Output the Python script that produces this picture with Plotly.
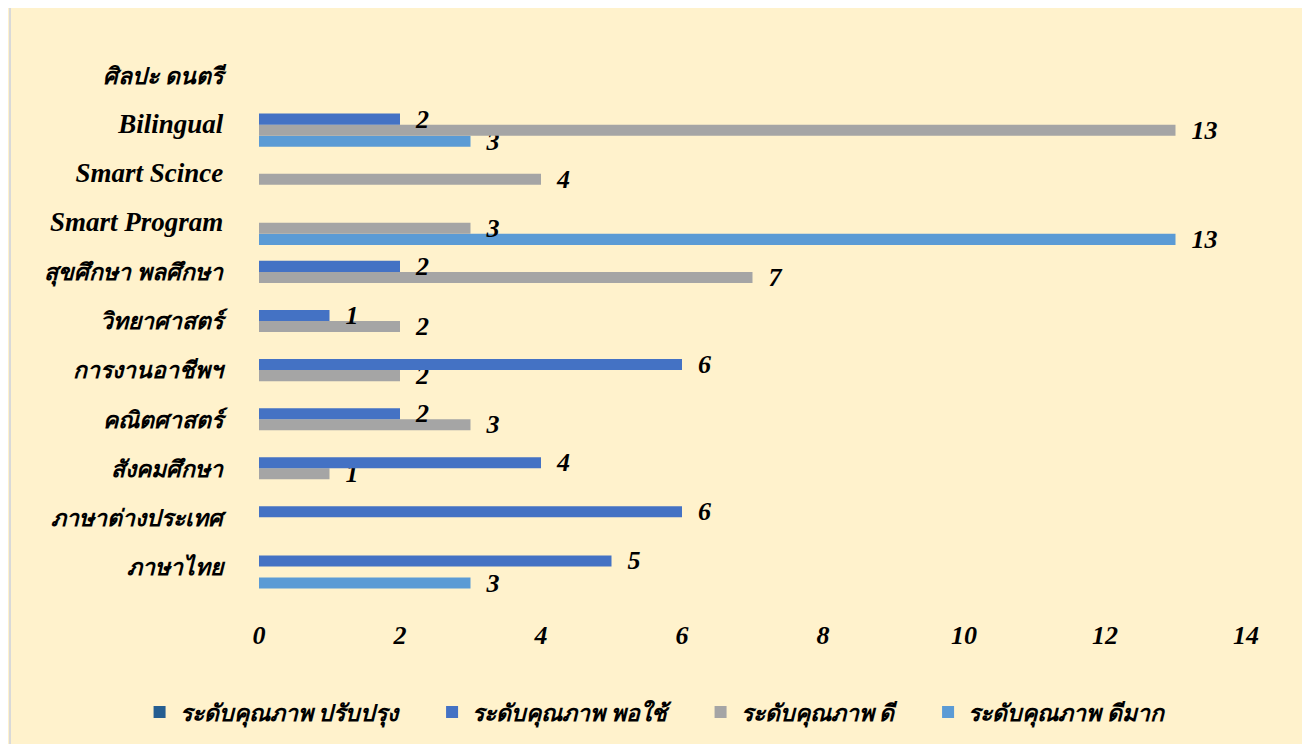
import plotly.graph_objects as go

categories = ["ภาษาไทย", "ภาษาต่างประเทศ", "สังคมศึกษา", "คณิตศาสตร์", "การงานอาชีพฯ",
              "วิทยาศาสตร์", "สุขศึกษา พลศึกษา", "Smart Program", "Smart Scince",
              "Bilingual", "ศิลปะ ดนตรี"]
series_names = ["ระดับคุณภาพ ปรับปรุง", "ระดับคุณภาพ พอใช้", "ระดับคุณภาพ ดี", "ระดับคุณภาพ ดีมาก"]
improve = [0, 0, 0, 0, 0, 0, 0, 0, 0, 0, 0]
fair = [5, 6, 4, 2, 6, 1, 2, 0, 0, 2, 0]
good = [0, 0, 1, 3, 2, 2, 7, 3, 4, 13, 0]
very_good = [3, 0, 0, 0, 0, 0, 0, 13, 0, 3, 0]
x_ticks = [0, 2, 4, 6, 8, 10, 12, 14]

colors = ["#255E91", "#4472C4", "#A5A5A5", "#5B9BD5"]
series_values = [improve, fair, good, very_good]

FONT = "Liberation Serif"
PAD = "\u00a0" * 5


def tick_label(c):
    size = 27 if c.isascii() else 23
    return f'<span style="font-size:{size}px">{c}</span>'


fig = go.Figure()
# plotly places the first trace at the bottom of each group, so add in reverse
for name, vals, col in reversed(list(zip(series_names, series_values, colors))):
    fig.add_trace(go.Bar(
        y=categories, x=vals, name=name + PAD, orientation="h",
        marker=dict(color=col, line=dict(width=0)),
        text=["  " + str(v) if v else "" for v in vals],
        textposition="outside",
        constraintext="none",
        textfont=dict(family=FONT, size=26, color="black", weight="bold", style="italic"),
        cliponaxis=False,
    ))

fig.update_layout(
    width=1310, height=744,
    paper_bgcolor="#FFF2CC", plot_bgcolor="#FFF2CC",
    barmode="group", bargap=0.1, bargroupgap=0,
    margin=dict(l=251, r=72, t=43, b=161, autoexpand=False),
    font=dict(family=FONT, color="black"),
    xaxis=dict(range=[0, 14], tickvals=x_ticks, showgrid=False, zeroline=False,
               showline=False, ticks="outside", ticklen=21, tickcolor="rgba(0,0,0,0)",
               tickfont=dict(family=FONT, size=26, weight="bold", style="italic")),
    yaxis=dict(categoryorder="array", categoryarray=categories,
               tickvals=categories, ticktext=[tick_label(c) for c in categories],
               showgrid=False, zeroline=False, showline=False,
               ticks="outside", ticklen=30, tickcolor="rgba(0,0,0,0)",
               tickfont=dict(family=FONT, size=24, weight="bold", style="italic")),
    legend=dict(orientation="h", traceorder="reversed",
                x=-0.121, xanchor="left", y=-0.224, yanchor="middle",
                font=dict(family=FONT, size=23, weight="bold", style="italic"),
                bgcolor="rgba(0,0,0,0)"),
    showlegend=True,
)
fig.add_shape(type="line", xref="paper", yref="paper", x0=-0.2523, x1=-0.2523, y0=-0.35, y1=1.2,
              line=dict(color="#D9D9D9", width=2))
fig.write_html("out.html")
